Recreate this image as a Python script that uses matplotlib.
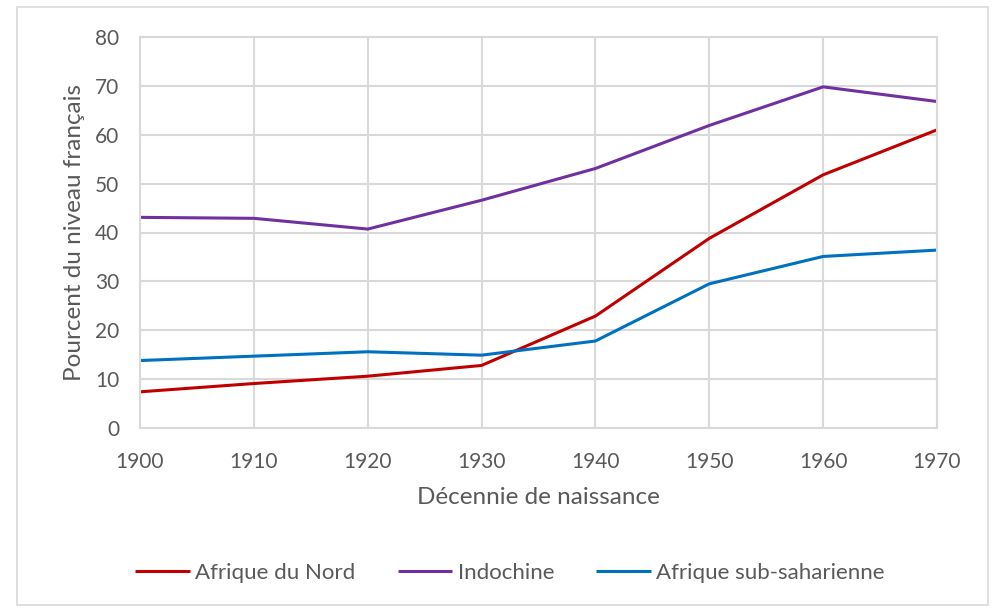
import matplotlib
matplotlib.use("Agg")
import matplotlib.pyplot as plt
from matplotlib.patches import Rectangle

years = [1900, 1910, 1920, 1930, 1940, 1950, 1960, 1970]
afrique_nord = [7.4, 9.1, 10.6, 12.8, 22.9, 38.8, 51.8, 61.0]
indochine = [43.1, 42.9, 40.7, 46.6, 53.1, 61.9, 69.8, 66.8]
afrique_sub = [13.8, 14.7, 15.6, 14.9, 17.8, 29.5, 35.1, 36.4]
series_names = ["Afrique du Nord", "Indochine", "Afrique sub-saharienne"]
colors = ["#C00000", "#7030A0", "#0070C0"]
yticks = [0, 10, 20, 30, 40, 50, 60, 70, 80]

plt.rcParams['font.family'] = ['Lato', 'DejaVu Sans']
W, H = 998, 608
fig = plt.figure(figsize=(W / 100, H / 100), dpi=100)
fig.patch.set_facecolor("white")

# outer chart border
fig.patches.append(Rectangle((17 / W, 1 - 605 / H), (988 - 17) / W, (605 - 7) / H,
                             transform=fig.transFigure, fill=False,
                             edgecolor="#d9d9d9", linewidth=1.2))

ax = fig.add_axes([140 / W, 1 - 428 / H, (937 - 140) / W, (428 - 37) / H])
text_c = "#595959"
grid_c = "#d9d9d9"

for vals, name, c in zip([afrique_nord, indochine, afrique_sub], series_names, colors):
    ax.plot(years, vals, color=c, linewidth=2.2, label=name, solid_capstyle="butt")

ax.set_xlim(years[0], years[-1])
ax.set_ylim(0, 80)
ax.set_xticks(years)
ax.set_yticks(yticks)
ax.grid(True, color=grid_c, linewidth=1.5)
ax.set_axisbelow(True)
for s in ax.spines.values():
    s.set_color(grid_c)
    s.set_linewidth(1.5)
ax.tick_params(length=0, labelsize=15, colors=text_c)
ax.tick_params(axis='x', pad=17)
ax.tick_params(axis='y', pad=15)
ax.set_xlabel("Décennie de naissance", fontsize=17.5, color=text_c, labelpad=11)
ax.set_ylabel("Pourcent du niveau français", fontsize=17.5, color=text_c, labelpad=7)

leg = fig.legend(loc="center", bbox_to_anchor=(510 / W, 1 - 573 / H), ncol=3,
                 frameon=False, fontsize=16, handlelength=2.45, handletextpad=0.25,
                 columnspacing=1.9)
for t in leg.get_texts():
    t.set_color(text_c)

fig.savefig("out.png", dpi=100, facecolor="white")
